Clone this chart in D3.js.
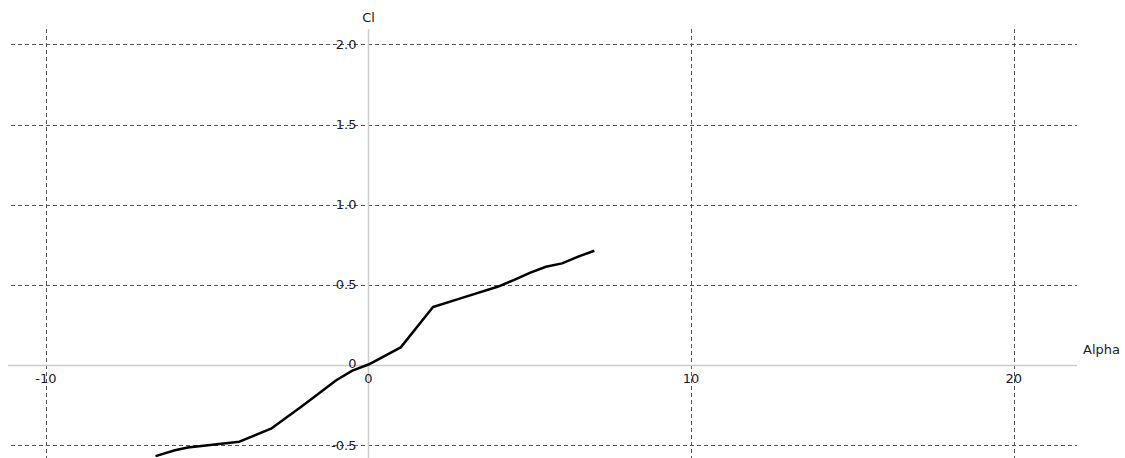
<!DOCTYPE html>
<html>
<head>
<meta charset="utf-8">
<script src="https://cdn.jsdelivr.net/npm/d3@7"></script>
<style>
  html, body { margin: 0; padding: 0; background: #fff; }
  svg { display: block; }
  text { font-family: "DejaVu Sans", Verdana, sans-serif; font-size: 13px; fill: #1a1a2e; }
</style>
</head>
<body>
<svg id="chart" width="1125" height="458"></svg>
<script>
// Lift coefficient versus angle of attack
const alpha = [-6.6, -6.0, -5.6, -4.0, -3.0, -2.0, -1.0, -0.5, 0.0, 1.0, 2.0, 3.0, 4.0, 4.5, 5.0, 5.5, 6.0, 6.5, 7.0];
const cl    = [-0.568, -0.532, -0.515, -0.478, -0.395, -0.248, -0.095, -0.035, 0.003, 0.11, 0.362, 0.425, 0.488, 0.53, 0.575, 0.613, 0.634, 0.676, 0.713];

const xTicks = [-10, 0, 10, 20];
const xTickLabels = ["-10", "0", "10", "20"];
const yTicks = [-0.5, 0, 0.5, 1.0, 1.5, 2.0];
const yTickLabels = ["-0.5", "0", "0.5", "1.0", "1.5", "2.0"];

const svg = d3.select("#chart");

const x = d3.scaleLinear().domain([-11.08, 21.96]).range([11, 1077]);
const y = d3.scaleLinear().domain([-0.58, 2.096]).range([458, 29]);

// dashed grid
const grid = svg.append("g");
grid.selectAll("line.vg")
  .data(xTicks.filter(d => d !== 0))
  .join("line")
  .attr("x1", d => Math.round(x(d)) + 0.5).attr("x2", d => Math.round(x(d)) + 0.5)
  .attr("y1", y.range()[1]).attr("y2", y.range()[0])
  .attr("stroke", "#555").attr("stroke-width", 1).attr("stroke-dasharray", "4,3");
grid.selectAll("line.hg")
  .data(yTicks.filter(d => d !== 0))
  .join("line")
  .attr("x1", x.range()[0]).attr("x2", x.range()[1])
  .attr("y1", d => Math.round(y(d)) + 0.5).attr("y2", d => Math.round(y(d)) + 0.5)
  .attr("stroke", "#555").attr("stroke-width", 1).attr("stroke-dasharray", "4,3");

// zero axes
svg.append("line")
  .attr("x1", 8).attr("x2", x.range()[1])
  .attr("y1", Math.round(y(0)) + 0.5).attr("y2", Math.round(y(0)) + 0.5)
  .attr("stroke", "#ccc").attr("stroke-width", 1.5);
svg.append("line")
  .attr("x1", Math.round(x(0)) + 0.5).attr("x2", Math.round(x(0)) + 0.5)
  .attr("y1", y.range()[1]).attr("y2", y.range()[0])
  .attr("stroke", "#ccc").attr("stroke-width", 1.5);

// tick labels
svg.append("g").selectAll("text")
  .data(xTicks)
  .join("text")
  .attr("x", d => x(d))
  .attr("y", y(0) + 13)
  .attr("dy", "0.35em")
  .attr("text-anchor", "middle")
  .text((d, i) => xTickLabels[i]);

svg.append("g").selectAll("text")
  .data(yTicks)
  .join("text")
  .attr("x", x(0) - 12)
  .attr("y", d => y(d) - (d === 0 ? 2 : 0))
  .attr("dy", "0.35em")
  .attr("text-anchor", "end")
  .text((d, i) => yTickLabels[i]);

// axis titles
svg.append("text").attr("x", x(0)).attr("y", 17).attr("dy", "0.35em")
  .attr("text-anchor", "middle").text("Cl");
svg.append("text").attr("x", 1083).attr("y", 349).attr("dy", "0.35em")
  .attr("text-anchor", "start").text("Alpha");

// curve
const pts = alpha.map((a, i) => [a, cl[i]]);
svg.append("path")
  .datum(pts)
  .attr("fill", "none")
  .attr("stroke", "#000")
  .attr("stroke-width", 2.5)
  .attr("stroke-linejoin", "round")
  .attr("d", d3.line().x(d => x(d[0])).y(d => y(d[1])));
</script>
</body>
</html>
